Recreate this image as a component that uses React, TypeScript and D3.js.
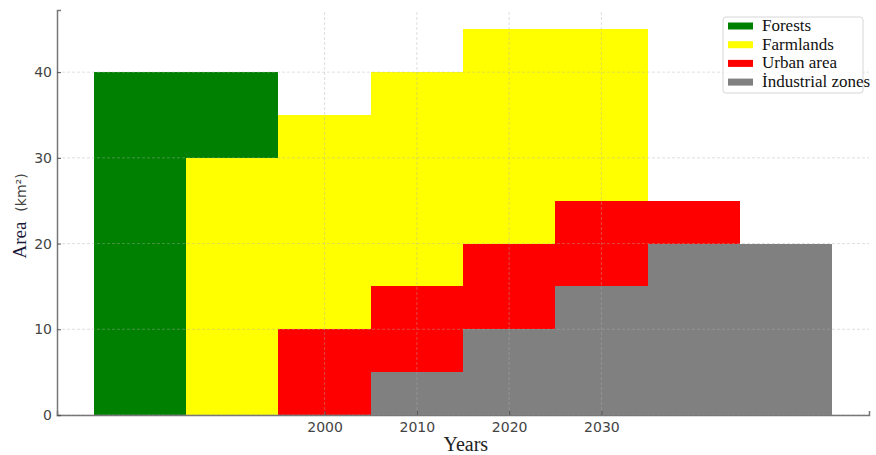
import { useRef, useEffect } from 'react';
import * as d3 from 'd3';

// Land use per decade (km²)
const forestYears = [1980, 1990];
const forestValues = [40, 40];
const farmYears = [1990, 2000, 2010, 2020, 2030];
const farmValues = [30, 35, 40, 45, 45];
const urbanYears = [2000, 2010, 2020, 2030, 2040];
const urbanValues = [10, 15, 20, 25, 25];
const industryYears = [2010, 2020, 2030, 2040, 2050];
const industryValues = [5, 10, 15, 20, 20];

const seriesNames = ['Forests', 'Farmlands', 'Urban area', 'İndustrial zones'];
const seriesColors = ['#008000', '#ffff00', '#ff0000', '#808080'];
const xTicks = [2000, 2010, 2020, 2030];
const yTicks = [0, 10, 20, 30, 40];

export default function App() {
  const svgRef = useRef<SVGSVGElement>(null);
  const width = 876;
  const height = 455;

  useEffect(() => {
    if (!svgRef.current) return;
    const svg = d3.select(svgRef.current);
    svg.selectAll('*').remove();

    const margin = { top: 10, right: 7, bottom: 40, left: 57 };
    const x = d3.scaleLinear().domain([1971, 2059]).range([margin.left, width - margin.right]);
    const y = d3.scaleLinear().domain([0, 47.25]).range([height - margin.bottom, margin.top]);
    const barW = 10;

    const series = [
      { years: forestYears, values: forestValues },
      { years: farmYears, values: farmValues },
      { years: urbanYears, values: urbanValues },
      { years: industryYears, values: industryValues },
    ];

    // bars, later series drawn on top
    series.forEach((s, i) => {
      svg.append('g')
        .selectAll('rect')
        .data(s.years.map((yr, j) => ({ yr, v: s.values[j] })))
        .enter().append('rect')
        .attr('x', d => x(d.yr - barW / 2))
        .attr('width', d => x(d.yr + barW / 2) - x(d.yr - barW / 2))
        .attr('y', d => y(d.v))
        .attr('height', d => y(0) - y(d.v))
        .attr('fill', seriesColors[i])
        .attr('shape-rendering', 'crispEdges');
    });

    // dashed grid
    const grid = svg.append('g')
      .attr('stroke', '#b0b0b0')
      .attr('stroke-opacity', 0.5)
      .attr('stroke-dasharray', '3,2')
      .attr('stroke-width', 0.8);
    xTicks.forEach(t => {
      grid.append('line')
        .attr('x1', x(t)).attr('x2', x(t))
        .attr('y1', y(0)).attr('y2', margin.top);
    });
    yTicks.forEach(t => {
      grid.append('line')
        .attr('x1', margin.left).attr('x2', width - margin.right)
        .attr('y1', y(t)).attr('y2', y(t));
    });

    // axes
    const xAxis = svg.append('g')
      .attr('transform', `translate(0,${y(0)})`)
      .call(d3.axisBottom(x).tickValues(xTicks).tickFormat(d3.format('d')).tickSize(-4).tickPadding(7));
    const yAxis = svg.append('g')
      .attr('transform', `translate(${margin.left},0)`)
      .call(d3.axisLeft(y).tickValues(yTicks).tickSize(-4).tickPadding(5));
    [xAxis, yAxis].forEach(a => {
      a.select('.domain').attr('stroke', '#777').attr('stroke-width', 1.5);
      a.selectAll('.tick line').attr('stroke', '#555');
      a.selectAll('.tick text')
        .attr('fill', '#444')
        .attr('font-family', 'DejaVu Sans')
        .attr('font-size', 14);
    });

    // axis labels
    svg.append('text')
      .attr('x', x(2015.3))
      .attr('y', height - 4)
      .attr('text-anchor', 'middle')
      .attr('font-family', 'Liberation Serif')
      .attr('font-size', 20)
      .attr('fill', '#222')
      .text('Years');

    const yl = svg.append('text')
      .attr('transform', `translate(26,216) rotate(-90)`)
      .attr('text-anchor', 'middle')
      .attr('font-family', 'Liberation Serif')
      .attr('font-size', 19)
      .attr('fill', '#1a1a3a');
    yl.append('tspan').text('Area');
    yl.append('tspan')
      .attr('font-family', 'DejaVu Sans')
      .attr('font-size', 14)
      .attr('fill', '#444')
      .attr('dx', 10)
      .text('(km²)');

    // legend
    const lg = svg.append('g').attr('transform', 'translate(723,17)');
    lg.append('rect')
      .attr('width', 140).attr('height', 76)
      .attr('rx', 3)
      .attr('fill', '#fff')
      .attr('fill-opacity', 0.8)
      .attr('stroke', '#d6d6d6');
    seriesNames.forEach((name, i) => {
      const row = lg.append('g').attr('transform', `translate(0,${9 + i * 18.7})`);
      row.append('rect')
        .attr('x', 5).attr('y', -3.5)
        .attr('width', 25).attr('height', 7)
        .attr('fill', seriesColors[i]);
      row.append('text')
        .attr('x', 39).attr('y', 5)
        .attr('font-family', 'Liberation Serif')
        .attr('font-size', 17)
        .attr('fill', '#111')
        .text(name);
    });
  }, []);

  return (
    <svg
      ref={svgRef}
      width={width}
      height={height}
      style={{ position: 'absolute', left: 0, top: 0, background: '#fff' }}
    />
  );
}
